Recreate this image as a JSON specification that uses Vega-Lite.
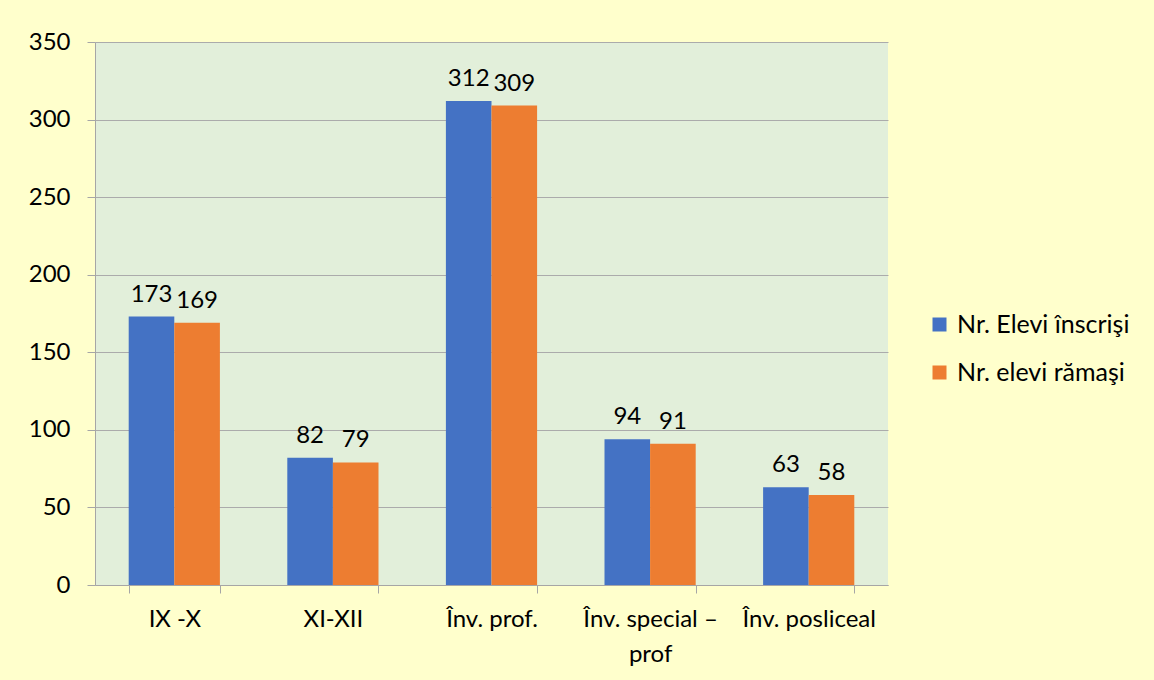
{
  "$schema": "https://vega.github.io/schema/vega-lite/v6.json",
  "width": 793,
  "height": 543,
  "autosize": {"type": "none"},
  "padding": {"left": 95, "top": 42, "right": 266, "bottom": 95},
  "background": "#FFFFCC",
  "config": {"view": {"fill": "#E2EFDA", "stroke": null}},
  "data": {
    "values": [
      {"cat": "IX -X", "series": "Nr. Elevi înscrişi", "value": 173},
      {"cat": "IX -X", "series": "Nr. elevi rămaşi", "value": 169},
      {"cat": "XI-XII", "series": "Nr. Elevi înscrişi", "value": 82},
      {"cat": "XI-XII", "series": "Nr. elevi rămaşi", "value": 79},
      {"cat": "Înv. prof.", "series": "Nr. Elevi înscrişi", "value": 312},
      {"cat": "Înv. prof.", "series": "Nr. elevi rămaşi", "value": 309},
      {"cat": "Înv. special – prof", "series": "Nr. Elevi înscrişi", "value": 94},
      {"cat": "Înv. special – prof", "series": "Nr. elevi rămaşi", "value": 91},
      {"cat": "Înv. posliceal", "series": "Nr. Elevi înscrişi", "value": 63},
      {"cat": "Înv. posliceal", "series": "Nr. elevi rămaşi", "value": 58}
    ]
  },
  "encoding": {
    "x": {
      "field": "cat",
      "type": "nominal",
      "sort": ["IX -X", "XI-XII", "Înv. prof.", "Înv. special – prof", "Înv. posliceal"],
      "scale": {"paddingInner": 0.425, "paddingOuter": 0.2125},
      "axis": {
        "title": null,
        "labelAngle": 0,
        "domainColor": "#A6A6A6",
        "tickColor": "#A6A6A6",
        "tickSize": 8,
        "tickBand": "extent",
        "labelFont": "Lato",
        "labelFontSize": 24,
        "labelColor": "#000000",
        "labelPadding": 14,
        "labelLineHeight": 35,
        "labelLimit": 300,
        "labelExpr": "datum.label == 'Înv. special – prof' ? ['Înv. special –', 'prof'] : datum.label"
      }
    },
    "xOffset": {"field": "series", "sort": ["Nr. Elevi înscrişi", "Nr. elevi rămaşi"]},
    "y": {
      "field": "value",
      "type": "quantitative",
      "scale": {"domain": [0, 350]},
      "axis": {
        "title": null,
        "values": [0, 50, 100, 150, 200, 250, 300, 350],
        "grid": true,
        "gridColor": "#ABABAB",
        "domainColor": "#A6A6A6",
        "tickColor": "#A6A6A6",
        "tickSize": 8,
        "labelPadding": 17,
        "labelFont": "Lato",
        "labelFontSize": 24,
        "labelColor": "#000000"
      }
    }
  },
  "layer": [
    {
      "mark": {"type": "bar"},
      "encoding": {
        "color": {
          "field": "series",
          "type": "nominal",
          "scale": {"domain": ["Nr. Elevi înscrişi", "Nr. elevi rămaşi"], "range": ["#4472C4", "#ED7D31"]},
          "legend": {
            "title": null,
            "orient": "none",
            "legendX": 832,
            "legendY": 270,
            "symbolType": "square",
            "symbolSize": 196,
            "symbolStrokeWidth": 0,
            "labelFont": "Lato",
            "labelFontSize": 25,
            "labelColor": "#000000",
            "labelOffset": 5,
            "labelLimit": 300,
            "rowPadding": 22
          }
        }
      }
    },
    {
      "mark": {"type": "text", "dy": -22, "font": "Lato", "fontSize": 24, "color": "#000000"},
      "encoding": {"text": {"field": "value", "type": "quantitative"}}
    }
  ]
}
